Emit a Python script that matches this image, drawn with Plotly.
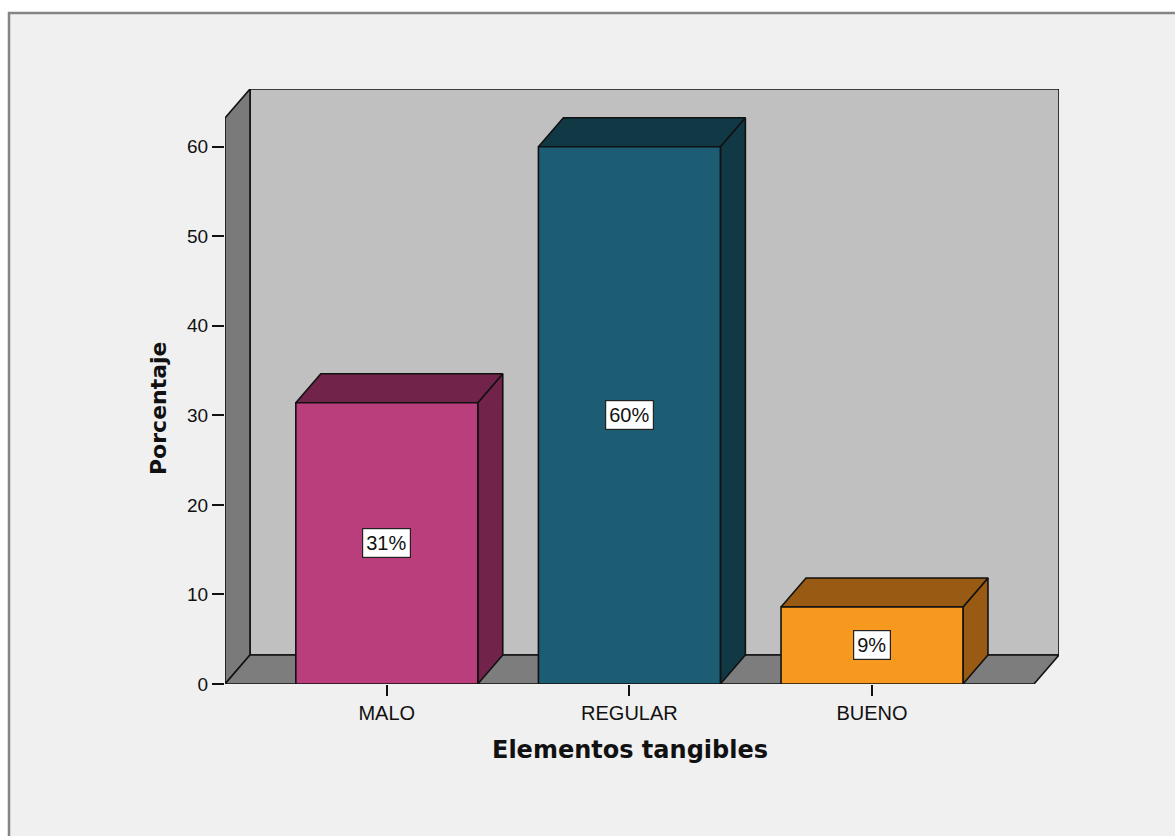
import plotly.graph_objects as go

# ---- data ----
categories = ["MALO", "REGULAR", "BUENO"]
percentages = [31.4, 60.0, 8.6]
labels = ["31%", "60%", "9%"]
front_colors = ["#B93E7B", "#1C5D74", "#F8991F"]
dark_colors = ["#72234A", "#113845", "#995B13"]
y_ticks = [0, 10, 20, 30, 40, 50, 60]

# ---- geometry (in axis units) ----
W, H = 1175, 836
L_PX, R_PX, T_PX, B_PX = 225, 1059, 89, 684   # plot-area edges in pixels
PX_PER_X = 242.6
PX_PER_Y = (684 - 146.7) / 60.0
X0 = (L_PX - 386.8) / PX_PER_X
X1 = (R_PX - 386.8) / PX_PER_X
Y1 = (B_PX - T_PX) / PX_PER_Y
DX = 25 / PX_PER_X
DY = 29 / PX_PER_Y
BAR_W = 0.75

LINE = dict(color="#111111", width=1.6)


def poly(xs, ys, color):
    return go.Scatter(x=xs + [xs[0]], y=ys + [ys[0]], mode="lines", fill="toself",
                      fillcolor=color, line=LINE, hoverinfo="skip", showlegend=False)


fig = go.Figure()

# back wall, left wall, floor
y_front_top = Y1 - DY
fig.add_trace(poly([X0 + DX, X1, X1, X0 + DX], [DY, DY, Y1, Y1], "#C0C0C0"))
fig.add_trace(poly([X0, X0 + DX, X0 + DX, X0], [0, DY, Y1, y_front_top], "#7A7A7A"))
fig.add_trace(poly([X0, X1 - DX, X1, X0 + DX], [0, 0, DY, DY], "#7D7D7D"))

# bars
for i, (v, fc, dc) in enumerate(zip(percentages, front_colors, dark_colors)):
    xl, xr = i - BAR_W / 2, i + BAR_W / 2
    fig.add_trace(poly([xr, xr + DX, xr + DX, xr], [0, DY, v + DY, v], dc))      # side
    fig.add_trace(poly([xl, xr, xr + DX, xl + DX], [v, v, v + DY, v + DY], dc))  # top
    fig.add_trace(poly([xl, xr, xr, xl], [0, 0, v, v], fc))                      # front
    fig.add_annotation(x=i, y=v / 2, text=labels[i], showarrow=False,
                       font=dict(family="Liberation Sans, Arial", size=20, color="#111111"),
                       bgcolor="white", bordercolor="#222222", borderwidth=1.2, borderpad=3)


def px_x(p):
    return (p - L_PX) / (R_PX - L_PX)


def px_y(p):
    return (B_PX - p) / (B_PX - T_PX)


# outer frame
fig.add_shape(type="rect", xref="paper", yref="paper", layer="below",
              x0=px_x(9), x1=px_x(1200), y0=px_y(900), y1=px_y(13),
              fillcolor="#F0F0F0", line=dict(color="#858585", width=2.5))

# axis titles
fig.add_annotation(xref="paper", yref="paper", x=px_x(158), y=px_y(408), text="<b>Porcentaje</b>",
                   textangle=-90, showarrow=False, xanchor="center", yanchor="middle",
                   font=dict(family="DejaVu Sans", size=22, color="#111111"))
fig.add_annotation(xref="paper", yref="paper", x=px_x(629.5), y=px_y(750),
                   text="<b>Elementos tangibles</b>", showarrow=False,
                   xanchor="center", yanchor="middle",
                   font=dict(family="DejaVu Sans", size=24, color="#111111"))

fig.update_layout(
    width=W, height=H,
    margin=dict(l=L_PX, r=W - R_PX, t=T_PX, b=H - B_PX, pad=0),
    paper_bgcolor="white", plot_bgcolor="rgba(0,0,0,0)",
    showlegend=False,
    font=dict(family="Liberation Sans, Arial", size=19, color="#111111"),
)
fig.update_xaxes(range=[X0, X1], tickmode="array", tickvals=list(range(len(categories))),
                 ticktext=categories, ticks="outside", ticklen=11, tickwidth=1.5,
                 tickcolor="#111111", showgrid=False, zeroline=False, showline=False,
                 tickfont=dict(size=20), fixedrange=True)
fig.update_yaxes(range=[0, Y1], tickmode="array", tickvals=y_ticks,
                 ticks="outside", ticklen=12, tickwidth=1.5, tickcolor="#111111",
                 showgrid=False, zeroline=False, showline=False,
                 tickfont=dict(size=19), fixedrange=True)

fig.write_html("out.html")
